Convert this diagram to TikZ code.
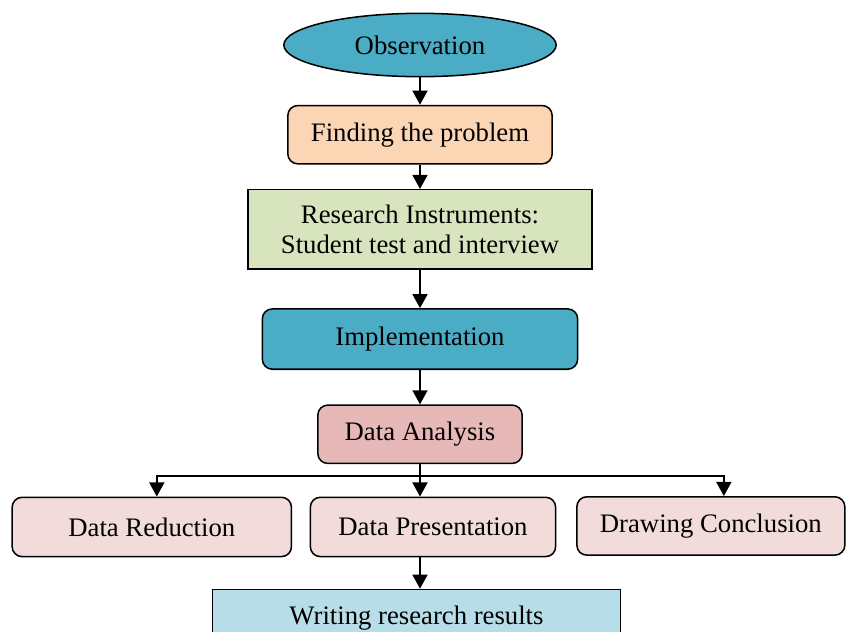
\documentclass[tikz,border=0pt]{standalone}
\usepackage{fontspec}
\setmainfont{Liberation Serif}
\usetikzlibrary{arrows.meta, positioning, shapes.geometric}

\definecolor{tealbox}{HTML}{4BACC6}
\definecolor{peachbox}{HTML}{FCD5B5}
\definecolor{greenbox}{HTML}{D7E4BD}
\definecolor{rosebox}{HTML}{E6B9B8}
\definecolor{pinkbox}{HTML}{F2DCDB}
\definecolor{bluebox}{HTML}{B7DEE8}

\begin{document}
\begin{tikzpicture}[
    box/.style={rectangle, draw, line width=1.3pt, rounded corners=3mm, align=center, inner sep=2pt, font=\fontsize{22.8}{25}\selectfont},
    sharp/.style={box, rounded corners=0pt},
    arrow/.style={-{Triangle[width=12.8pt,length=12pt]}, line width=1.4pt}
]

\useasboundingbox (-126mm,13.5mm) rectangle (128.1mm,-175.8mm);

% chaine principale
\node[box, ellipse, fill=tealbox, minimum width=81.7mm, minimum height=19mm] (obs) {Observation};
\node[box, fill=peachbox, minimum width=79.3mm, minimum height=17.5mm, below=8.2mm of obs] (problem) {Finding the problem};
\node[sharp, fill=greenbox, minimum width=103.3mm, minimum height=23.8mm, below=7.3mm of problem] (instr) {Research Instruments:\\Student test and interview};
\node[box, fill=tealbox, minimum width=94.6mm, minimum height=18.1mm, below=11.5mm of instr] (impl) {Implementation};
\node[box, fill=rosebox, minimum width=61.3mm, minimum height=17.5mm, below=10.3mm of impl] (analysis) {Data Analysis};

% rangee des trois etapes
\node[box, fill=pinkbox, minimum width=73.6mm, minimum height=17.8mm, below=9.7mm of analysis, xshift=3.9mm] (present) {Data Presentation};
\node[box, fill=pinkbox, minimum width=83.8mm, minimum height=17.8mm, left=5.2mm of present] (reduct) {Data Reduction};
\node[box, fill=pinkbox, minimum width=80.4mm, minimum height=17.5mm, right=5.9mm of present, yshift=0.3mm] (concl) {Drawing Conclusion};

\node[sharp, fill=bluebox, minimum width=122.5mm, minimum height=17.2mm, below=9.4mm of present, xshift=-4.95mm] (writing) {Writing research results};

% fleches
\draw[arrow] (obs) -- (problem);
\draw[arrow] (problem) -- (instr);
\draw[arrow] (instr) -- (impl);
\draw[arrow] (impl) -- (analysis);
\draw[arrow] (analysis.south) -- (analysis.south |- present.north);

% embranchement
\coordinate[below=3.6mm of analysis.south] (split);
\draw[arrow] (split) -| ([xshift=1.5mm]reduct.north);
\draw[arrow] (split) -| ([xshift=3.9mm]concl.north);

\draw[arrow] (analysis.south |- present.south) -- (analysis.south |- writing.north);

\end{tikzpicture}
\end{document}
